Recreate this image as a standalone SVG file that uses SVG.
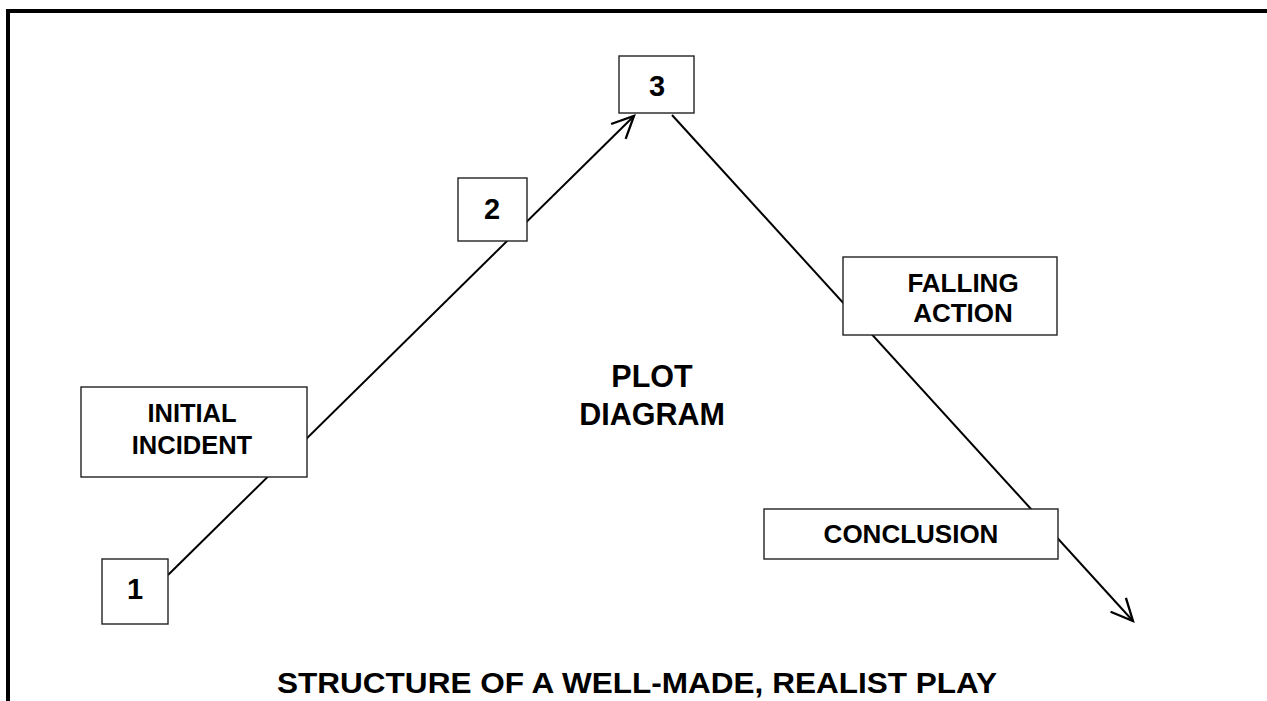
<svg xmlns="http://www.w3.org/2000/svg" width="1267" height="701" viewBox="0 0 1267 701">
<style>
.box{fill:#fff;stroke:#222;stroke-width:1.4}
.t{font-family:"Liberation Sans",Arial,sans-serif;font-weight:bold;fill:#000;text-anchor:middle}
.conn{stroke:#000;stroke-width:2;fill:none}
</style>
<defs>
<marker id="arr" markerUnits="userSpaceOnUse" markerWidth="30" markerHeight="30" refX="0" refY="0" viewBox="-22 -12 26 24" orient="auto" overflow="visible">
<path d="M-19,-9 L0,0 L-19,9" fill="none" stroke="#000" stroke-width="2"/>
</marker>
</defs>
<rect width="1267" height="701" fill="#fff"/>
<g id="frame">
<line x1="6" y1="11" x2="1267" y2="11" stroke="#000" stroke-width="4"/>
<line x1="8" y1="9" x2="8" y2="701" stroke="#000" stroke-width="4"/>
</g>
<g id="connectors">
<line class="conn" x1="168" y1="575" x2="634" y2="116" marker-end="url(#arr)"/>
<line class="conn" x1="672" y1="115" x2="1133" y2="621" marker-end="url(#arr)"/>
</g>
<g id="node-1">
<rect class="box" x="102" y="559" width="66" height="65"/>
<text class="t" x="135" y="599" font-size="29">1</text>
</g>
<g id="node-2">
<rect class="box" x="458" y="178" width="69" height="63"/>
<text class="t" x="492" y="219" font-size="29">2</text>
</g>
<g id="node-3">
<rect class="box" x="619" y="56" width="75" height="57"/>
<text class="t" x="657" y="96" font-size="29">3</text>
</g>
<g id="node-initial-incident">
<rect class="box" x="81" y="387" width="226" height="90"/>
<text class="t" x="192" y="422" font-size="25.5">INITIAL</text>
<text class="t" x="192" y="454" font-size="25.5">INCIDENT</text>
</g>
<g id="node-falling-action">
<rect class="box" x="843" y="257" width="214" height="78"/>
<text class="t" x="963" y="292" font-size="26">FALLING</text>
<text class="t" x="963" y="322" font-size="26">ACTION</text>
</g>
<g id="node-conclusion">
<rect class="box" x="764" y="509" width="294" height="50"/>
<text class="t" x="911" y="543" font-size="26">CONCLUSION</text>
</g>
<g id="label-plot-diagram">
<text class="t" x="652" y="387" font-size="30.5">PLOT</text>
<text class="t" x="652" y="425" font-size="30.5">DIAGRAM</text>
</g>
<g id="title">
<text class="t" x="637" y="693" font-size="29" textLength="720" lengthAdjust="spacingAndGlyphs">STRUCTURE OF A WELL-MADE, REALIST PLAY</text>
</g>
</svg>
